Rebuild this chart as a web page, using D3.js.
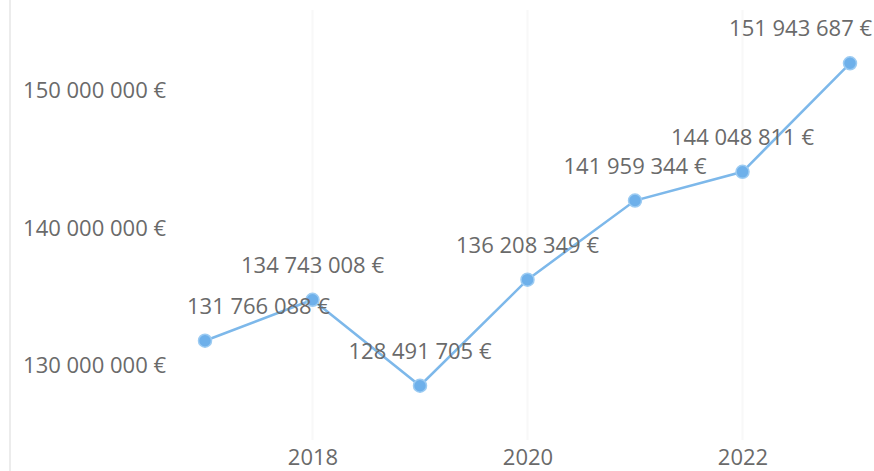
<!DOCTYPE html>
<html><head><meta charset="utf-8">
<script src="https://cdn.jsdelivr.net/npm/d3@7"></script>
<style>
html,body{margin:0;padding:0;background:#fff;}
text{font-family:"Open Sans","Noto Sans",sans-serif;fill:#6a6a6a;}
</style></head>
<body><svg id="c" width="874" height="471"></svg>
<script>
const years = [2017, 2018, 2019, 2020, 2021, 2022, 2023];
const values = [131766088, 134743008, 128491705, 136208349, 141959344, 144048811, 151943687];
const yTicks = [130000000, 140000000, 150000000];
const xTicks = [2018, 2020, 2022];

const W = 874, H = 471;
const svg = d3.select("#c");
const x = d3.scaleLinear().domain([2017, 2023]).range([205, 850]);
const y = d3.scaleLinear().domain([130000000, 150000000]).range([365, 90]);
const fmt = v => d3.format(",")(v).replace(/,/g, " ") + " €";
const FONT = "'Open Sans','Noto Sans',sans-serif";

// left border line
svg.append("line").attr("x1", 10).attr("x2", 10).attr("y1", 0).attr("y2", H)
  .attr("stroke", "#ececec").attr("stroke-width", 2);

// faint vertical grid
svg.append("g").selectAll("line").data(xTicks).join("line")
  .attr("x1", d => x(d)).attr("x2", d => x(d)).attr("y1", 10).attr("y2", 440)
  .attr("stroke", "#f8f8f8").attr("stroke-width", 2);

// y axis labels
const yAxis = d3.axisLeft(y).tickValues(yTicks).tickFormat(fmt).tickSize(0).tickPadding(0);
const gy = svg.append("g").attr("transform", "translate(166,0)").call(yAxis);
gy.select(".domain").remove();
gy.selectAll("text").attr("font-size", 22).attr("fill", "#6a6a6a")
  .attr("font-family", FONT).attr("dy", "0.35em");

// x axis labels
const xAxis = d3.axisBottom(x).tickValues(xTicks).tickFormat(d3.format("d")).tickSize(0).tickPadding(0);
const gx = svg.append("g").attr("transform", "translate(0,449)").call(xAxis);
gx.select(".domain").remove();
gx.selectAll("text").attr("font-size", 22).attr("fill", "#6a6a6a")
  .attr("font-family", FONT).attr("dy", "0.71em");

const data = years.map((yr, i) => ({yr, v: values[i]}));

// line
svg.append("path").datum(data)
  .attr("d", d3.line().x(d => x(d.yr)).y(d => y(d.v)))
  .attr("fill", "none").attr("stroke", "#7db8ea").attr("stroke-width", 2.5);

// points
svg.append("g").selectAll("circle").data(data).join("circle")
  .attr("cx", d => x(d.yr)).attr("cy", d => y(d.v)).attr("r", 6.5)
  .attr("fill", "#6eb0ea").attr("stroke", "#9ccbf2").attr("stroke-width", 1.5);

// data labels
const lbl = svg.append("g").selectAll("text").data(data).join("text")
  .attr("font-size", 22).attr("fill", "#6a6a6a").attr("text-anchor", "middle")
  .attr("font-family", FONT)
  .attr("y", d => y(d.v) - 27)
  .text(d => fmt(d.v));
lbl.each(function(d) {
  const w = this.getComputedTextLength();
  let cx = x(d.yr);
  const minL = 187, maxR = 872;
  if (cx - w / 2 < minL) cx = minL + w / 2;
  if (cx + w / 2 > maxR) cx = maxR - w / 2;
  d3.select(this).attr("x", cx);
});
</script></body></html>
